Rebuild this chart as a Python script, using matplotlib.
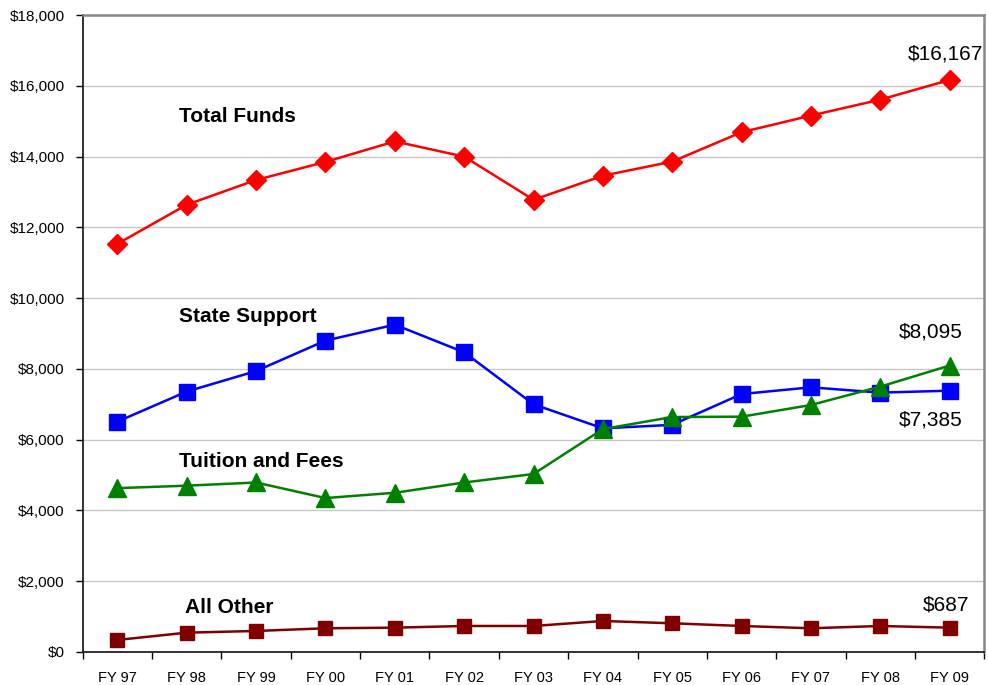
import matplotlib
matplotlib.use("Agg")
import matplotlib.pyplot as plt
from matplotlib.ticker import FuncFormatter, FixedLocator

plt.rcParams["font.family"] = ["Liberation Sans", "DejaVu Sans"]

# Data (thousands of dollars)
years = ["FY 97", "FY 98", "FY 99", "FY 00", "FY 01", "FY 02", "FY 03",
         "FY 04", "FY 05", "FY 06", "FY 07", "FY 08", "FY 09"]
total_funds = [11535, 12640, 13340, 13850, 14430, 14000, 12780,
               13460, 13860, 14690, 15160, 15610, 16167]
state_support = [6510, 7360, 7940, 8800, 9250, 8470, 7000,
                 6320, 6420, 7290, 7480, 7330, 7385]
tuition_fees = [4630, 4700, 4790, 4350, 4500, 4790, 5030,
                6300, 6640, 6650, 6980, 7500, 8095]
all_other = [340, 546, 594, 670, 687, 735, 735,
             876, 811, 735, 670, 735, 687]

x = list(range(len(years)))

fig = plt.figure(figsize=(9.88, 6.85), dpi=100)
ax = fig.add_axes([0.0837, 0.0482, 0.9126, 0.9298])

ax.plot(x, total_funds, color="#FF0000", lw=1.8, marker="D", ms=10.5, zorder=5)
ax.plot(x, state_support, color="#0000FF", lw=1.8, marker="s", ms=12, zorder=4)
ax.plot(x, tuition_fees, color="#008000", lw=1.8, marker="^", ms=13.5, zorder=5)
ax.plot(x, all_other, color="#800000", lw=1.8, marker="s", ms=10.5, zorder=5)

ax.set_xlim(-0.5, len(years) - 0.5)
ax.set_ylim(0, 18000)
ax.set_yticks(range(0, 18001, 2000))
ax.yaxis.set_major_formatter(FuncFormatter(lambda v, p: "${:,.0f}".format(v)))
ax.set_xticks(x)
ax.set_xticklabels(years)
ax.xaxis.set_minor_locator(FixedLocator([i - 0.5 for i in range(len(years) + 1)]))
ax.tick_params(axis="x", which="major", length=0, pad=14, labelsize=10.5)
ax.tick_params(axis="x", which="minor", length=5, width=1, direction="out")
ax.tick_params(axis="y", length=5, width=1, labelsize=11, pad=8)

ax.grid(axis="y", color="#C8C8C8", lw=1)
ax.set_axisbelow(True)

for s in ["left", "bottom"]:
    ax.spines[s].set_color("#222222")
    ax.spines[s].set_linewidth(1.3)
for s in ["top", "right"]:
    ax.spines[s].set_color("#888888")
    ax.spines[s].set_linewidth(1.8)

# series labels
lab = dict(fontsize=15, fontweight="bold", ha="left", va="center")
ax.text(0.89, 15120, "Total Funds", **lab)
ax.text(0.89, 9470, "State Support", **lab)
ax.text(0.89, 5380, "Tuition and Fees", **lab)
ax.text(0.98, 1260, "All Other", **lab)

# end value labels
last = len(years) - 1
val = dict(fontsize=15, textcoords="offset points", va="center", ha="right")
ax.annotate("${:,}".format(total_funds[last]), (last, total_funds[last]), xytext=(24, 19), **val)
ax.annotate("${:,}".format(tuition_fees[last]), (last, tuition_fees[last]), xytext=(9, 24), **val)
ax.annotate("${:,}".format(state_support[last]), (last, state_support[last]), xytext=(9, -21), **val)
ax.annotate("${:,}".format(all_other[last]), (last, all_other[last]), xytext=(14, 16), **val)

fig.savefig("out.png", dpi=100)
